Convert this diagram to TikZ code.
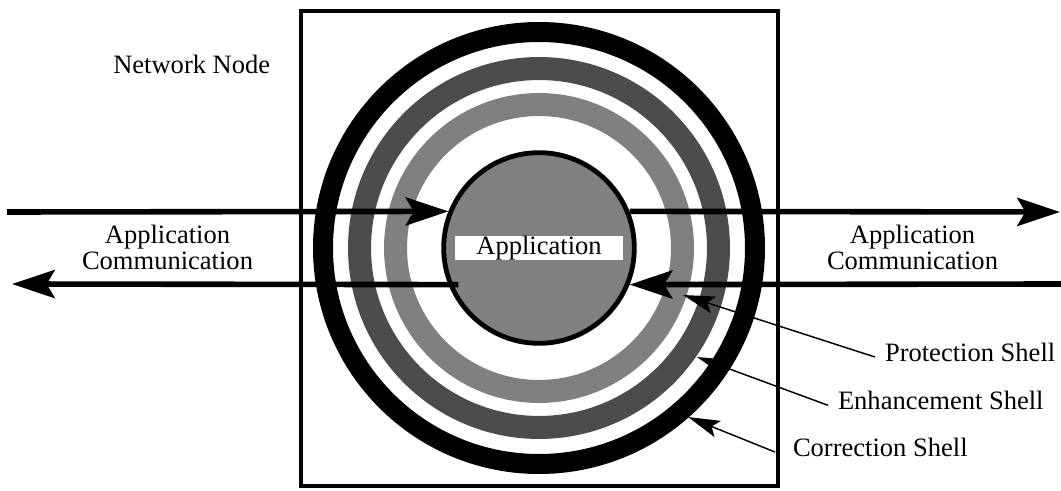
\documentclass[tikz,border=0pt]{standalone}
\usepackage{fontspec}
\setmainfont{Liberation Serif}
\usetikzlibrary{arrows.meta}

\begin{document}
\begin{tikzpicture}[
  x=0.75pt, y=-0.75pt,
  ring/.style={line width=17.25pt},
  txt/.style={font=\fontsize{19.9}{19}\selectfont, inner sep=0pt, align=center},
  shell/.style={font=\fontsize{19.9}{19}\selectfont, inner sep=0pt,
                outer sep=7.5pt, anchor=base west},
  bigarrow/.style={-{Stealth[length=32pt, width=21pt, inset=6pt]}, line width=4.2pt},
  pointer/.style={-{Stealth[length=24pt, width=13pt, inset=5pt]}, line width=1.1pt}
]
\useasboundingbox (0,0) rectangle (1061,491);

% --- Network node ---
\draw[line width=3pt] (301,11.5) rectangle (778,486);
\node[txt, anchor=base west] (netlabel) at (113,73.3) {Network Node};

% --- Shells ---
\coordinate (c) at (539,248);
\draw[line width=15pt] (c) circle[radius=162pt];
\draw[ring, draw=black!70] (c) circle[radius=134.6pt];
\draw[ring, draw=black!50] (c) circle[radius=107.6pt];

% --- Application ---
\node[circle, draw, fill=black!50, line width=3.6pt, minimum size=143pt,
      inner sep=0pt] (app) at (c) {};
\node[txt, fill=white, minimum width=126pt, minimum height=18pt] (applabel) at (c) {Application};

% --- Communication ---
\coordinate (inL) at (7,212);
\coordinate (outR) at (1060,212);
\coordinate (outL) at (12,284);
\coordinate (inR) at (1061,284);
\draw[bigarrow] (inL) -- (app.158);
\draw[bigarrow] (app.22) -- (outR);
\draw[bigarrow] ([xshift=7.5pt]app.202) -- (outL);
\draw[bigarrow] (inR) -- (app.338);
\node[txt] (commL) at (167.5,247.4) {Application\\Communication};
\node[txt] (commR) at (912.5,247.4) {Application\\Communication};

% --- Shell labels ---
\node[shell] (prot) at (875,361.7) {Protection Shell};
\node[shell] (enh) at (828,410) {Enhancement Shell};
\node[shell] (corr) at (783,456.7) {Correction Shell};
\coordinate (protTip) at (683,295);
\coordinate (enhTip) at (697,357);
\coordinate (corrTip) at (688,417);
\draw[pointer] ([yshift=3.5pt]prot.base west) -- (protTip);
\draw[pointer] ([yshift=3.5pt]enh.base west) -- (enhTip);
\draw[pointer] ([xshift=-6pt,yshift=3.5pt]corr.base west) -- (corrTip);

\end{tikzpicture}
\end{document}
